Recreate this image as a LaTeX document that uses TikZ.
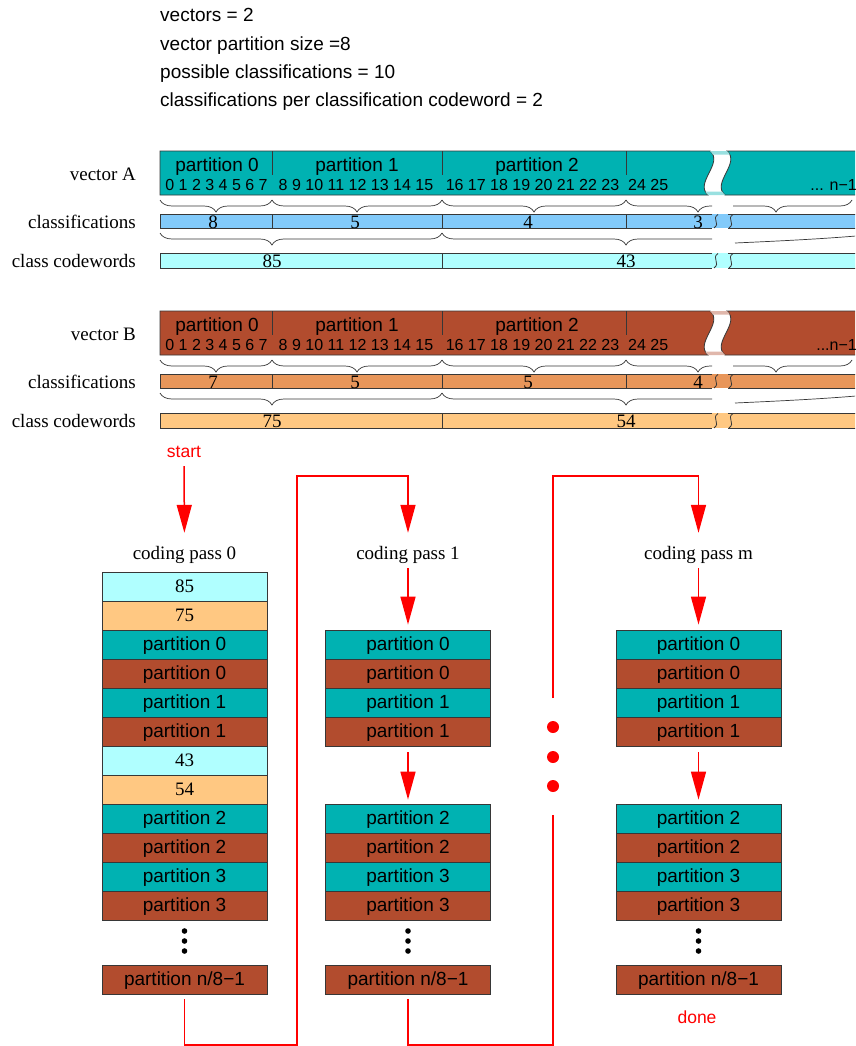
\documentclass[tikz,border=0pt]{standalone}
\usepackage{fontspec}
\setmainfont{Liberation Serif}
\setsansfont{Liberation Sans}
\usetikzlibrary{arrows.meta,decorations.pathreplacing}
\definecolor{vteal}{RGB}{0,178,178}
\definecolor{vbrown}{RGB}{178,76,46}
\definecolor{lblue}{RGB}{130,202,250}
\definecolor{lcyan}{RGB}{176,255,255}
\definecolor{lorange}{RGB}{232,150,90}
\definecolor{lpeach}{RGB}{255,200,130}
\definecolor{edge}{RGB}{55,55,55}
\tikzset{
  sansXX/.style={font=\sffamily\fontsize{19}{22}\selectfont},
  serifXX/.style={font=\rmfamily\fontsize{19}{22}\selectfont},
  toptxt/.style={sansXX, anchor=base west, inner sep=0pt},
  lbl/.style={serifXX, anchor=east, inner sep=0pt, text height=13pt, text depth=4pt},
  ptxt/.style={sansXX, inner sep=0pt, text height=13.5pt, text depth=4pt},
  ntxt/.style={font=\sffamily\fontsize{16}{19}\selectfont, inner sep=0pt, text height=11.5pt, text depth=0pt},
  cwtxt/.style={serifXX, inner sep=0pt, text height=12.8pt, text depth=0pt},
  passlbl/.style={serifXX, inner sep=0pt, text height=13pt, text depth=4pt},
  redtxt/.style={font=\sffamily\fontsize{17.5}{20}\selectfont, text=red, inner sep=0pt, text height=12pt, text depth=0pt},
  edgeline/.style={draw=edge, line width=0.8pt},
  brc/.style={draw=edge, line width=0.7pt, decorate, decoration={brace, mirror, amplitude=12pt}},
  cell/.style={draw=edge, line width=0.8pt, minimum width=165pt, minimum height=29pt, inner sep=0pt},
  pA/.style={cell, fill=vteal, sansXX, text height=13.5pt, text depth=2.5pt},
  pB/.style={cell, fill=vbrown, sansXX, text height=13.5pt, text depth=2.5pt},
  cwA/.style={cell, fill=lcyan, serifXX, text height=12.8pt, text depth=0pt},
  cwB/.style={cell, fill=lpeach, serifXX, text height=12.8pt, text depth=0pt},
  redline/.style={draw=red, line width=1.5pt},
  redarrow/.style={draw=red, line width=1.5pt, -{Triangle[length=28pt,width=15pt]}},
  bdot/.style={fill=black},
  rdot/.style={fill=red}
}
% #1 vector letter, #2-#5 classifications, #6-#7 codewords, #8 end text
\newcommand\vecrow[8]{%
  % vector bar
  \path[vfill, edgeline] (160,151) -- (710,151) .. controls (724,163) and (694,183) .. (708,195) -- (160,195) -- cycle;
  \path[vfill, edgeline] (727,151) .. controls (741,163) and (711,183) .. (725,195) -- (870,195) -- (870,151) -- cycle;
  \begin{scope}
    \clip (700,150) rectangle (740,154.5) (700,191.5) rectangle (740,196);
    \fill[gapfill] (710,151) .. controls (724,163) and (694,183) .. (708,195) -- (725,195) .. controls (711,183) and (741,163) .. (727,151) -- cycle;
  \end{scope}
  \draw[edgeline] (272,151) -- (272,175) (442,151) -- (442,175) (626,151) -- (626,175);
  \node[ptxt] (p0#1) at (217,166.5) {partition 0};
  \node[ptxt] (p1#1) at (357,166.5) {partition 1};
  \node[ptxt] (p2#1) at (537,166.5) {partition 2};
  \node[ntxt] (n0#1) at (216.5,184.7) {0 1 2 3 4 5 6 7};
  \node[ntxt] (n1#1) at (356,184.7) {8 9 10 11 12 13 14 15};
  \node[ntxt] (n2#1) at (532.5,184.7) {16 17 18 19 20 21 22 23};
  \node[ntxt, anchor=west] (n3#1) at (628,184.7) {24 25};
  \node[ntxt, anchor=east] (nl#1) at (857,184.7) {#8};
  % braces row 1
  \begin{scope}
    \clip (150,196) rectangle (712,214);
    \draw[brc] (160,200) -- (272,200);
    \draw[brc] (272,200) -- (442,200);
    \draw[brc] (442,200) -- (626,200);
    \draw[brc] (626,200) -- (770,200);
  \end{scope}
  \begin{scope}
    \clip (733,196) rectangle (870,214);
    \draw[brc] (700,200) -- (852,200);
  \end{scope}
  % classification bar
  \fill[cfill] (160,214) rectangle (870,228);
  \draw[edgeline] (712,214) -- (160,214) -- (160,228) -- (712,228);
  \draw[edgeline] (728,214) -- (870,214) (728,228) -- (870,228);
  \draw[edgeline] (272,214) -- (272,228) (442,214) -- (442,228) (626,214) -- (626,228);
  \draw[edgeline] (718,214.5) .. controls (711,219) and (721,223) .. (714,228);
  \draw[edgeline] (733,214.5) .. controls (726,219) and (736,223) .. (729,228);
  \node[cwtxt] (c0#1) at (213,222) {#2};
  \node[cwtxt] (c1#1) at (355,222) {#3};
  \node[cwtxt] (c2#1) at (528,222) {#4};
  \node[cwtxt] (c3#1) at (698,222) {#5};
  % braces row 2
  \begin{scope}
    \clip (150,229) rectangle (712,252);
    \draw[brc, decoration={brace, mirror, amplitude=12pt, aspect=0.397}] (160,233) -- (442,233);
    \draw[brc] (442,233) -- (810,233);
  \end{scope}
  \draw[draw=edge, line width=0.7pt] (735,243) .. controls (780,241) and (820,239) .. (856,236);
  % codeword bar
  \fill[wfill] (160,253) rectangle (870,268);
  \draw[edgeline] (712,253) -- (160,253) -- (160,268) -- (712,268);
  \draw[edgeline] (728,253) -- (870,253) (728,268) -- (870,268);
  \draw[edgeline] (442,253) -- (442,268);
  \draw[edgeline] (718,253.5) .. controls (711,258) and (721,263) .. (714,268);
  \draw[edgeline] (733,253.5) .. controls (726,258) and (736,263) .. (729,268);
  \node[cwtxt] (w0#1) at (272,261.5) {#6};
  \node[cwtxt] (w1#1) at (626,261.5) {#7};
  % left labels
  \node[lbl] (lv#1) at (136,176) {vector #1};
  \node[lbl] (lc#1) at (136,223.5) {classifications};
  \node[lbl] (lw#1) at (136,263) {class codewords};
}
\begin{document}
\begin{tikzpicture}[x=1pt,y=-1pt]
\useasboundingbox (0,0) rectangle (855,1046);
\clip (0,0) rectangle (855,1046);
\fill[white] (0,0) rectangle (855,1046);

% header
\node[toptxt] (h1) at (160,22) {vectors = 2};
\node[toptxt] (h2) at (160,50.5) {vector partition size =8};
\node[toptxt] (h3) at (160,78.5) {possible classifications = 10};
\node[toptxt] (h4) at (160,106.5) {classifications per classification codeword = 2};

\begin{scope}[vfill/.style={fill=vteal}, cfill/.style={fill=lblue}, wfill/.style={fill=lcyan}, gapfill/.style={fill=vteal!40}]
  \vecrow{A}{8}{5}{4}{3}{85}{43}{... n\textminus 1}
\end{scope}
\begin{scope}[shift={(0,160)}, vfill/.style={fill=vbrown}, cfill/.style={fill=lorange}, wfill/.style={fill=lpeach}, gapfill/.style={fill=vbrown!40}]
  \vecrow{B}{7}{5}{5}{4}{75}{54}{...n\textminus 1}
\end{scope}

% coding passes
\node[redtxt] (start) at (184,451) {start};
\node[passlbl] (cp0) at (184.5,554.5) {coding pass 0};
\node[passlbl] (cp1) at (408,554.5) {coding pass 1};
\node[passlbl] (cpm) at (698.5,554.5) {coding pass m};

% column 0
\foreach \t/\s/\i in {85/cwA/1, 75/cwB/2, partition 0/pA/3, partition 0/pB/4, partition 1/pA/5, partition 1/pB/6, 43/cwA/7, 54/cwB/8, partition 2/pA/9, partition 2/pB/10, partition 3/pA/11, partition 3/pB/12}
  \node[\s] (r0-\i) at (184.5,{557.5+29*\i}) {\t};
\node[pB] (last0) at (184.5,979.5) {partition n/8\textminus 1};

% column 1 and m
\foreach \c/\x in {1/408, m/698.5}{
  \foreach \t/\s/\i in {partition 0/pA/1, partition 0/pB/2, partition 1/pA/3, partition 1/pB/4}
    \node[\s] (r\c-\i) at (\x,{615.5+29*\i}) {\t};
  \foreach \t/\s/\i in {partition 2/pA/5, partition 2/pB/6, partition 3/pA/7, partition 3/pB/8}
    \node[\s] (r\c-\i) at (\x,{673.5+29*\i}) {\t};
  \node[pB] (last\c) at (\x,979.5) {partition n/8\textminus 1};
}

% vertical black dots
\foreach \x in {184.5,408,698.5}
  \foreach \y in {931,941,951}
    \fill[bdot] (\x,\y) circle[radius=2.8pt];

% arrows
\draw[redarrow, shorten <=9pt, shorten >=13pt] (start) -- (cp0);
\draw[redarrow, shorten <=5pt, shorten >=5pt] (cp1) -- (r1-1);
\draw[redarrow, shorten <=6pt, shorten >=4pt] (r1-4) -- (r1-5);
\draw[redarrow, shorten <=5pt, shorten >=5pt] (cpm) -- (rm-1);
\draw[redarrow, shorten <=6pt, shorten >=4pt] (rm-4) -- (rm-5);

\coordinate (b0) at (297,1045);
\coordinate (t0) at (297,476);
\draw[redarrow, shorten <=5pt, shorten >=13pt] (last0.south) |- (b0) -- (t0) -| (cp1);

\coordinate (b1) at (553,1045);
\coordinate (g1) at (553,815);
\coordinate (g2) at (553,698);
\coordinate (t1) at (553,476);
\draw[redline, shorten <=5pt] (last1.south) |- (b1) -- (g1);
\draw[redarrow, shorten >=13pt] (g2) -- (t1) -| (cpm);
\foreach \y in {727,757,786}
  \fill[rdot] (553,\y) circle[radius=6pt];

\node[redtxt] (done) at (697,1017) {done};
\end{tikzpicture}
\end{document}
